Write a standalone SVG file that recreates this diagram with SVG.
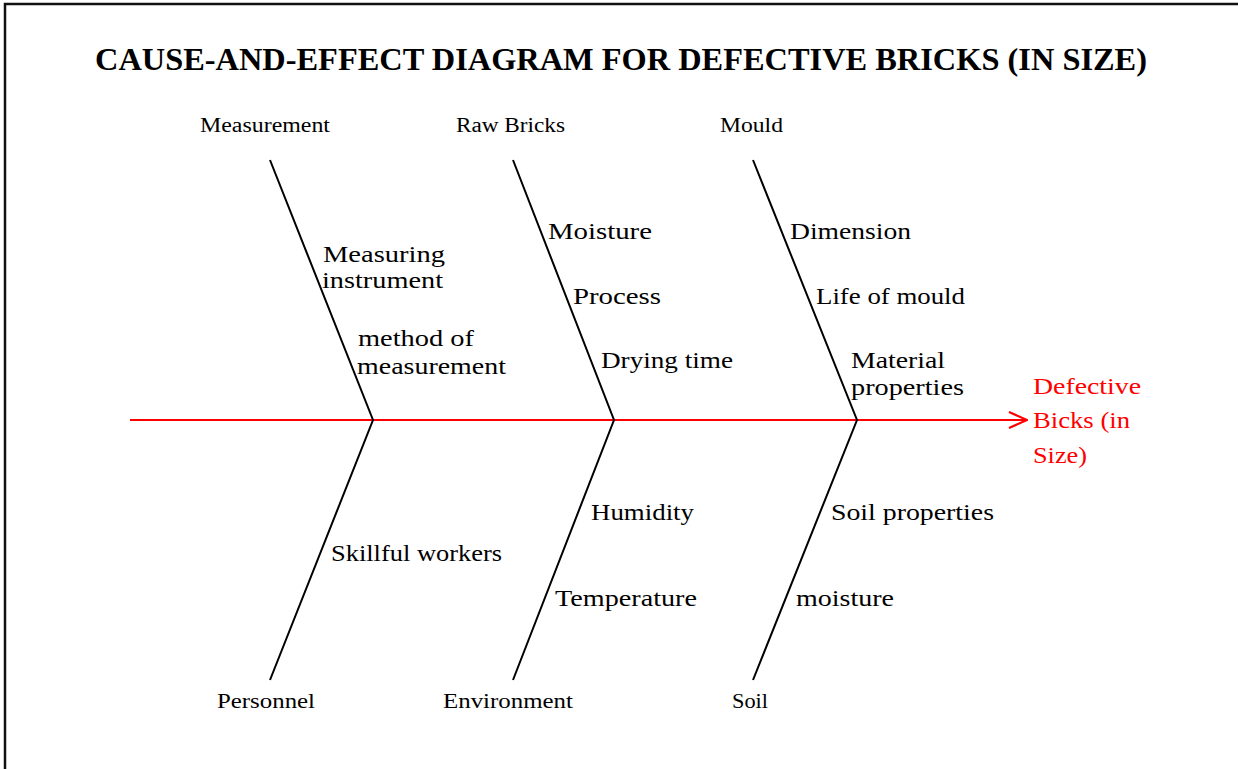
<svg xmlns="http://www.w3.org/2000/svg" width="1238" height="769" viewBox="0 0 1238 769">
<style>
.t{font-family:"Liberation Serif","Times New Roman",serif;fill:#000}
.title{font-size:32px;font-weight:bold}
.cat{font-size:20px}
.lab{font-size:24px}
.red{fill:#ff0000}
.bone{stroke:#000;stroke-width:2;fill:none}
.spine{stroke:#ff0000;stroke-width:2;fill:none}
.frame{stroke:#111;stroke-width:2.5;fill:none}
</style>
<defs>
<marker id="arr" viewBox="0 0 20 20" refX="19" refY="10" markerWidth="20" markerHeight="20" markerUnits="userSpaceOnUse" orient="auto">
<path d="M1,2 L19,10 L1,18" fill="none" stroke="#ff0000" stroke-width="2.2"/>
</marker>
</defs>
<rect width="1238" height="769" fill="#fff"/>
<path class="frame" d="M5,769 L5,4 L1238,4"/>
<text class="t title" x="95" y="70" textLength="1052" lengthAdjust="spacingAndGlyphs">CAUSE-AND-EFFECT DIAGRAM FOR DEFECTIVE BRICKS (IN SIZE)</text>
<g id="connectors">
<line class="spine" x1="130" y1="420" x2="1027" y2="420" marker-end="url(#arr)"/>
<polyline class="bone" points="270,160 373,420 270,680"/>
<polyline class="bone" points="513,160 614,420 513,680"/>
<polyline class="bone" points="753,160 857,420 753,680"/>
</g>
<g id="measurement">
<text class="t cat" x="200" y="132" textLength="130" lengthAdjust="spacingAndGlyphs">Measurement</text>
<text class="t lab" x="323" y="262" textLength="122" lengthAdjust="spacingAndGlyphs">Measuring</text>
<text class="t lab" x="322" y="288" textLength="121" lengthAdjust="spacingAndGlyphs">instrument</text>
<text class="t lab" x="358" y="346" textLength="116" lengthAdjust="spacingAndGlyphs">method of</text>
<text class="t lab" x="357" y="374" textLength="149" lengthAdjust="spacingAndGlyphs">measurement</text>
</g>
<g id="raw-bricks">
<text class="t cat" x="456" y="132" textLength="109" lengthAdjust="spacingAndGlyphs">Raw Bricks</text>
<text class="t lab" x="548" y="239" textLength="104" lengthAdjust="spacingAndGlyphs">Moisture</text>
<text class="t lab" x="573" y="304" textLength="88" lengthAdjust="spacingAndGlyphs">Process</text>
<text class="t lab" x="601" y="368" textLength="132" lengthAdjust="spacingAndGlyphs">Drying time</text>
</g>
<g id="mould">
<text class="t cat" x="720" y="132" textLength="63" lengthAdjust="spacingAndGlyphs">Mould</text>
<text class="t lab" x="790" y="239" textLength="121" lengthAdjust="spacingAndGlyphs">Dimension</text>
<text class="t lab" x="816" y="304" textLength="149" lengthAdjust="spacingAndGlyphs">Life of mould</text>
<text class="t lab" x="851" y="368" textLength="94" lengthAdjust="spacingAndGlyphs">Material</text>
<text class="t lab" x="851" y="395" textLength="113" lengthAdjust="spacingAndGlyphs">properties</text>
</g>
<g id="effect">
<text class="t lab red" x="1033" y="394" textLength="108" lengthAdjust="spacingAndGlyphs">Defective</text>
<text class="t lab red" x="1033" y="428" textLength="97" lengthAdjust="spacingAndGlyphs">Bicks (in</text>
<text class="t lab red" x="1033" y="463" textLength="54" lengthAdjust="spacingAndGlyphs">Size)</text>
</g>
<g id="personnel">
<text class="t cat" x="217" y="708" textLength="98" lengthAdjust="spacingAndGlyphs">Personnel</text>
<text class="t lab" x="331" y="561" textLength="171" lengthAdjust="spacingAndGlyphs">Skillful workers</text>
</g>
<g id="environment">
<text class="t cat" x="443" y="708" textLength="130" lengthAdjust="spacingAndGlyphs">Environment</text>
<text class="t lab" x="591" y="520" textLength="103" lengthAdjust="spacingAndGlyphs">Humidity</text>
<text class="t lab" x="555" y="606" textLength="142" lengthAdjust="spacingAndGlyphs">Temperature</text>
</g>
<g id="soil">
<text class="t cat" x="732" y="708" textLength="36" lengthAdjust="spacingAndGlyphs">Soil</text>
<text class="t lab" x="831" y="520" textLength="163" lengthAdjust="spacingAndGlyphs">Soil properties</text>
<text class="t lab" x="796" y="606" textLength="98" lengthAdjust="spacingAndGlyphs">moisture</text>
</g>
</svg>
